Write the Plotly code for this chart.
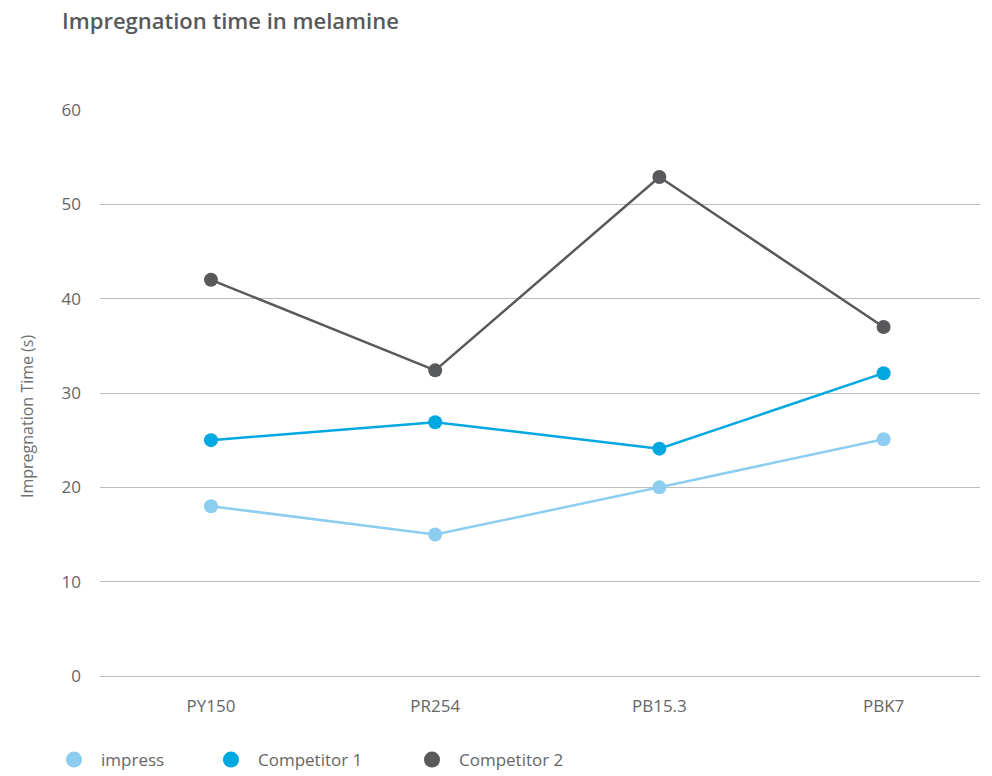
import plotly.graph_objects as go

categories = ["PY150", "PR254", "PB15.3", "PBK7"]
impress = [18, 15, 20, 25.1]
competitor1 = [25, 26.9, 24.1, 32.1]
competitor2 = [42, 32.4, 52.9, 37]
series_names = ["impress", "Competitor 1", "Competitor 2"]
colors = ["#8dcdf0", "#00a8e1", "#58595b"]
y_ticks = [0, 10, 20, 30, 40, 50, 60]

L, R, T, B = 100, 12, 110, 100
W, H = 992, 776
pw, ph = W - L - R, H - T - B
legend_ids = ["legend", "legend2", "legend3"]
legend_x_px = [47, 204, 405]

fig = go.Figure()
for name, vals, col in zip(series_names, [impress, competitor1, competitor2], colors):
    fig.add_trace(go.Scatter(
        x=categories, y=vals, name=name, mode="lines+markers",
        line=dict(color=col, width=2.5),
        marker=dict(color=col, size=14, symbol="circle"),
        showlegend=False, legendgroup=name,
    ))
# legend entries: markers only, one legend box per entry
for name, col, lid in zip(series_names, colors, legend_ids):
    fig.add_trace(go.Scatter(
        x=[None], y=[None], name=name, mode="markers",
        marker=dict(color=col, size=17, symbol="circle"),
        showlegend=True, legendgroup=name, legend=lid,
    ))

legend_style = dict(orientation="h", xref="container", yref="container",
                    xanchor="left", y=16/H, yanchor="middle",
                    font=dict(size=17, color="#666666"), itemsizing="trace",
                    itemwidth=44, bgcolor="rgba(0,0,0,0)")

fig.update_layout(
    width=W, height=H,
    margin=dict(l=L, r=R, t=T, b=B),
    paper_bgcolor="white", plot_bgcolor="white",
    font=dict(family="Open Sans", color="#666666", size=17),
    title=dict(text="Impregnation time in melamine", x=62/W, xanchor="left",
               y=1 - 21/H, yanchor="middle",
               font=dict(family="Open Sans", size=22, color="#58595b", weight=600)),
    showlegend=True,
    legend=dict(x=legend_x_px[0]/W, **legend_style),
    legend2=dict(x=legend_x_px[1]/W, **legend_style),
    legend3=dict(x=legend_x_px[2]/W, **legend_style),
    annotations=[dict(
        text="Impregnation Time (s)", textangle=-90, showarrow=False,
        xref="paper", yref="paper", x=(27 - L) / pw, y=(H - B - 417) / ph,
        xanchor="center", yanchor="middle",
        font=dict(size=16, color="#6e6e6e"),
    )],
)
fig.update_xaxes(
    type="category", range=[-0.495, 3.43], showgrid=False, zeroline=False,
    showline=False, ticks="", ticklabelstandoff=18,
    tickfont=dict(size=17, color="#666666"),
)
fig.update_yaxes(
    range=[0, 60], tickvals=y_ticks, showgrid=True, gridcolor="#bdbdbd", gridwidth=1,
    zeroline=True, zerolinecolor="#bdbdbd", zerolinewidth=1, showline=False,
    ticks="", ticklabelstandoff=18,
    tickfont=dict(size=17, color="#666666"),
)

fig.write_html("out.html", config={"displayModeBar": False},
               post_script="document.body.style.margin='0';")
